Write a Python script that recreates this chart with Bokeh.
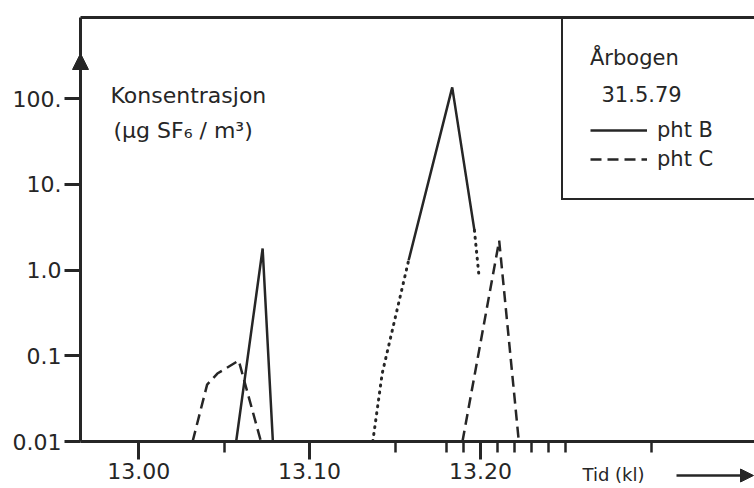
import math
from bokeh.plotting import figure
from bokeh.models import (Range1d, FixedTicker, Label, Legend, LegendItem, Arrow,
                          NormalHead)
from bokeh.embed import file_html
from bokeh.resources import INLINE

# ---- data: time in minutes after kl 13.00, concentration in µg SF6 / m3 ----
# pht B (solid), first passage
b1_t = [5.7, 7.25, 7.85]
b1_c = [0.01, 1.78, 0.01]
# pht B, second passage: dotted rise, solid peak, dotted tail
b2_rise_t = [13.7, 14.25, 15.8]
b2_rise_c = [0.01, 0.062, 1.3]
b2_t = [15.8, 18.35, 19.65]
b2_c = [1.3, 135.0, 2.9]
b2_tail_t = [19.65, 19.9]
b2_tail_c = [2.9, 0.92]
# pht C (dashed)
c1_t = [3.15, 4.0, 4.6, 5.85, 7.15]
c1_c = [0.01, 0.046, 0.062, 0.088, 0.01]
c2_t = [18.95, 21.1, 22.25]
c2_c = [0.01, 2.2, 0.01]

y_ticks = [0.01, 0.1, 1.0, 10.0, 100.0]
y_tick_labels = ["0.01", "0.1", "1.0", "10.", "100."]
x_major = [0, 10, 20]
x_major_labels = ["13.00", "13.10", "13.20"]
x_minor = [5, 15, 18, 19, 21, 22, 23, 24, 25, 30]

INK = "#262626"
FONT = "DejaVu Sans"

W, H = 754, 488
PX_PER_MIN = 17.08
X0_PX = 138.3              # pixel column of kl 13.00
DEC_PX = 85.75             # pixels per decade
AXIS_PX = 441              # pixel row of the 0.01 line
Y_AXIS_MIN = 0.01


def xd(px):
    return (px - X0_PX) / PX_PER_MIN


def yd(py):
    return Y_AXIS_MIN * 10 ** ((AXIS_PX - py) / DEC_PX)


X_START, X_END = xd(0), xd(W)
Y_START, Y_END = yd(H), yd(0)
X_YAXIS = xd(80)           # where the concentration axis stands
Y_TOP = yd(17)             # top border of the diagram

p = figure(width=W, height=H, x_range=Range1d(X_START, X_END),
           y_range=Range1d(Y_START, Y_END), y_axis_type="log",
           output_backend="svg", toolbar_location=None,
           min_border_left=0, min_border_right=0, min_border_top=0,
           min_border_bottom=0)
p.grid.visible = False
p.outline_line_color = None
p.background_fill_color = "white"
p.border_fill_color = "white"

xa = p.xaxis[0]
xa.fixed_location = Y_AXIS_MIN
xa.bounds = (X_YAXIS, X_END)
xa.ticker = FixedTicker(ticks=x_major, minor_ticks=x_minor)
xa.major_label_overrides = {t: l for t, l in zip(x_major, x_major_labels)}
xa.major_label_text_font = FONT
xa.major_label_text_font_size = "22px"
xa.major_label_text_color = INK
xa.major_label_standoff = 3
xa.axis_line_color = INK
xa.axis_line_width = 3
xa.major_tick_line_color = INK
xa.major_tick_line_width = 3
xa.major_tick_out = 18
xa.major_tick_in = 0
xa.minor_tick_line_color = INK
xa.minor_tick_line_width = 2.5
xa.minor_tick_out = 11
xa.minor_tick_in = 0

ya = p.yaxis[0]
ya.fixed_location = X_YAXIS
ya.bounds = (Y_AXIS_MIN, Y_TOP)
ya.ticker = FixedTicker(ticks=y_ticks, minor_ticks=[])
ya.major_label_overrides = {t: l for t, l in zip(y_ticks, y_tick_labels)}
ya.axis_line_color = INK
ya.axis_line_width = 3
ya.major_tick_line_color = INK
ya.major_tick_line_width = 3
ya.major_tick_out = 16
ya.major_tick_in = 0
ya.minor_tick_line_color = None
ya.major_label_standoff = 3
ya.major_label_text_font = FONT
ya.major_label_text_font_size = "22px"
ya.major_label_text_color = INK

# top border of the diagram
p.line([X_YAXIS, X_END], [Y_TOP, Y_TOP], line_color=INK, line_width=3)

# data lines
rB = p.line(b1_t, b1_c, line_color=INK, line_width=2.5)
p.line(b2_t, b2_c, line_color=INK, line_width=2.5)
p.line(b2_rise_t, b2_rise_c, line_color=INK, line_width=3, line_dash="1 6", line_cap="round")
p.line(b2_tail_t, b2_tail_c, line_color=INK, line_width=3, line_dash="1 6", line_cap="round")
rC = p.line(c1_t, c1_c, line_color=INK, line_width=2.5, line_dash="11 6")
p.line(c2_t, c2_c, line_color=INK, line_width=2.5, line_dash="11 6")

LEG_H = 183
legend = Legend(items=[LegendItem(label="pht B", renderers=[rB]),
                       LegendItem(label="pht C", renderers=[rC])],
                location=(561, H - 17 - LEG_H), title="Årbogen",
                title_text_font=FONT, title_text_font_size="21px",
                title_text_font_style="normal", title_text_color=INK,
                title_standoff=48,
                label_text_font=FONT, label_text_font_size="21px",
                label_text_color=INK,
                glyph_width=57, glyph_height=20, label_standoff=10,
                label_width=76, padding=27, spacing=5, margin=0,
                border_line_color=INK, border_line_width=2, border_line_alpha=1,
                background_fill_alpha=0)
p.add_layout(legend)
p.add_layout(Label(x=xd(601), y=yd(93), text="31.5.79", text_font=FONT,
                   text_font_size="21px", text_color=INK, text_baseline="alphabetic"))

# axis title inside the plot
p.add_layout(Label(x=xd(110), y=yd(95), text="Konsentrasjon", text_font=FONT,
                   text_font_size="22px", text_color=INK, text_baseline="alphabetic"))
p.add_layout(Label(x=xd(113), y=yd(130), text="(µg SF₆ / m³)", text_font=FONT,
                   text_font_size="22px", text_color=INK, text_baseline="alphabetic"))

# "Tid (kl) ->"
p.add_layout(Label(x=xd(582), y=yd(474), text="Tid (kl)", text_font=FONT,
                   text_font_size="18px", text_color=INK, text_baseline="alphabetic"))
p.add_layout(Arrow(end=NormalHead(size=13, fill_color=INK, line_color=INK),
                   x_start=xd(676), y_start=yd(475), x_end=xd(753), y_end=yd(475),
                   line_color=INK, line_width=2.5))

# y axis arrow
p.add_layout(Arrow(end=NormalHead(size=16, fill_color=INK, line_color=INK),
                   x_start=X_YAXIS, y_start=yd(85), x_end=X_YAXIS, y_end=yd(53),
                   line_color=INK, line_width=3))

open("out.html", "w").write(file_html(p, INLINE))
